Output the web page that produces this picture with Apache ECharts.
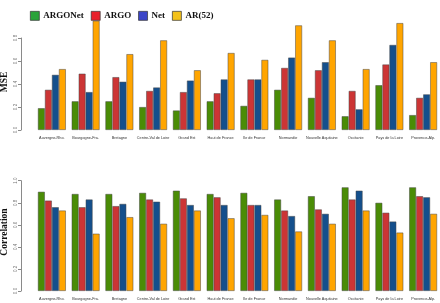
<!DOCTYPE html>
<html><head><meta charset="utf-8">
<script src="https://cdn.jsdelivr.net/npm/echarts@6/dist/echarts.min.js"></script>
<style>html,body{margin:0;padding:0;background:#fff}#c{width:440px;height:303px}</style>
</head><body><div id="c"></div>
<script>
const regions = ["Auvergne-Rho.","Bourgogne-Fra.","Bretagne","Centre-Val de Loire","Grand Est","Haut de France","Ile de France","Normandie","Nouvelle Aquitaine","Occitanie","Pays de la Loire","Provence-Alp."];
const seriesNames = ["ARGONet","ARGO","Net","AR(52)"];
const mseARGONet = [0.19,0.25,0.25,0.20,0.17,0.25,0.21,0.35,0.28,0.12,0.39,0.13];
const mseARGO    = [0.35,0.49,0.46,0.34,0.33,0.32,0.44,0.54,0.52,0.34,0.57,0.28];
const mseNet     = [0.48,0.33,0.42,0.37,0.43,0.44,0.44,0.63,0.59,0.18,0.74,0.31];
const mseAR52    = [0.53,0.95,0.66,0.78,0.52,0.67,0.61,0.91,0.78,0.53,0.93,0.59];
const corARGONet = [0.90,0.88,0.88,0.89,0.91,0.88,0.89,0.83,0.86,0.94,0.80,0.94];
const corARGO    = [0.82,0.76,0.77,0.83,0.84,0.85,0.78,0.73,0.74,0.83,0.71,0.86];
const corNet     = [0.76,0.83,0.79,0.81,0.78,0.78,0.78,0.68,0.70,0.91,0.63,0.85];
const corAR52    = [0.73,0.52,0.67,0.61,0.73,0.66,0.69,0.54,0.61,0.73,0.53,0.70];
const msTicks = [0,0.2,0.4,0.6,0.8];
const corTicks = [0,0.2,0.4,0.6,0.8,1.0];

const barColors = ["#4a8c06","#cc3535","#144f8c","#ffa500"];
const legendColors = ["#2aa33a","#e8202a","#3b45c8","#f4c21a"];

const chart = echarts.init(document.getElementById('c'), null, {renderer:'canvas'});
function yAx(gi, ticks){
  return {type:'value', gridIndex:gi, min:ticks[0], max:ticks[ticks.length-1], interval:0.2, offset:14,
    axisLine:{show:true, lineStyle:{color:'#8a8a8a', width:1}},
    axisTick:{show:true, length:3, lineStyle:{color:'#8a8a8a'}},
    axisLabel:{rotate:90, fontSize:4.5, color:'#777', margin:3, fontFamily:'Liberation Sans', formatter:v=>v.toFixed(1)},
    splitLine:{show:false}};
}
function xAx(gi){
  return {type:'category', gridIndex:gi, data:regions,
    axisLine:{show:false}, axisTick:{show:false},
    axisLabel:{interval:0, fontSize:3.8, color:'#333', margin:6, fontFamily:'Liberation Sans'}};
}
const dataSets = [[mseARGONet,mseARGO,mseNet,mseAR52],[corARGONet,corARGO,corNet,corAR52]];
const series = [];
dataSets.forEach((set,gi)=>{
  set.forEach((d,i)=>{
    series.push({type:'bar', name:seriesNames[i], xAxisIndex:gi, yAxisIndex:gi, data:d,
      barGap:'0%', barCategoryGap:'17%', clip:false,
      itemStyle:{color:barColors[i], borderColor:'rgba(70,70,70,0.7)', borderWidth:0.7},
      emphasis:{disabled:true}, animation:false});
  });
});
chart.setOption({
  animation:false,
  legend:{left:25, top:6, itemWidth:9, itemHeight:9, itemGap:7, icon:'rect',
    textStyle:{fontFamily:'Liberation Serif', fontWeight:'bold', fontSize:9, color:'#111', padding:[0,0,0,-1]},
    data:seriesNames.map((n,i)=>({name:n, itemStyle:{color:legendColors[i], borderColor:'#333', borderWidth:0.7}}))},
  grid:[{left:35, right:-2, top:38, height:92},{left:35, right:-2, top:180.7, height:110.3}],
  xAxis:[xAx(0), xAx(1)],
  yAxis:[yAx(0, msTicks), yAx(1, corTicks)],
  series:series,
  graphic:[
    {type:'text', x:5, y:82, rotation:Math.PI/2, style:{text:'MSE', fontFamily:'Liberation Serif', fontWeight:'bold', fontSize:9.5, fill:'#111', align:'center', verticalAlign:'middle'}},
    {type:'text', x:5, y:232, rotation:Math.PI/2, style:{text:'Correlation', fontFamily:'Liberation Serif', fontWeight:'bold', fontSize:9.5, fill:'#111', align:'center', verticalAlign:'middle'}}
  ]
});
</script></body></html>
